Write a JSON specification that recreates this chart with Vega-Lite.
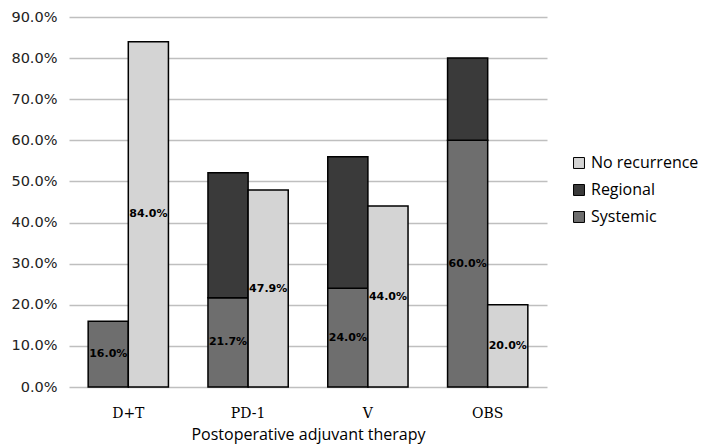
{
  "$schema": "https://vega.github.io/schema/vega-lite/v6.json",
  "width": 478,
  "height": 370,
  "padding": {"left": 10, "top": 9, "right": 5, "bottom": 5},
  "background": "white",
  "data": {
    "values": [
      {"therapy": "D+T", "bar": "Recurrence", "type": "Systemic", "value": 0.16},
      {"therapy": "D+T", "bar": "No recurrence", "type": "No recurrence", "value": 0.84},
      {"therapy": "PD-1", "bar": "Recurrence", "type": "Systemic", "value": 0.217},
      {"therapy": "PD-1", "bar": "Recurrence", "type": "Regional", "value": 0.304},
      {"therapy": "PD-1", "bar": "No recurrence", "type": "No recurrence", "value": 0.479},
      {"therapy": "V", "bar": "Recurrence", "type": "Systemic", "value": 0.24},
      {"therapy": "V", "bar": "Recurrence", "type": "Regional", "value": 0.32},
      {"therapy": "V", "bar": "No recurrence", "type": "No recurrence", "value": 0.44},
      {"therapy": "OBS", "bar": "Recurrence", "type": "Systemic", "value": 0.60},
      {"therapy": "OBS", "bar": "Recurrence", "type": "Regional", "value": 0.20},
      {"therapy": "OBS", "bar": "No recurrence", "type": "No recurrence", "value": 0.20}
    ]
  },
  "transform": [
    {"calculate": "indexof(['Systemic', 'Regional', 'No recurrence'], datum.type)", "as": "rank"}
  ],
  "encoding": {
    "x": {
      "field": "therapy", "type": "nominal", "sort": ["D+T", "PD-1", "V", "OBS"],
      "scale": {"paddingInner": 0.33, "paddingOuter": 0.16},
      "axis": {
        "title": "Postoperative adjuvant therapy", "titleFont": "Open Sans", "titleFontSize": 16,
        "titleFontWeight": "normal", "titleColor": "black", "titlePadding": 6,
        "labelAngle": 0, "labelFont": "DejaVu Serif", "labelFontSize": 14, "labelColor": "black",
        "labelPadding": 19, "ticks": false, "domain": false
      }
    },
    "xOffset": {"field": "bar", "type": "nominal", "sort": ["Recurrence", "No recurrence"], "scale": {"paddingInner": 0, "paddingOuter": 0}}
  },
  "layer": [
    {
      "mark": {"type": "bar", "stroke": "black", "strokeWidth": 1.5},
      "encoding": {
        "y": {
          "field": "value", "type": "quantitative", "stack": "zero",
          "scale": {"domain": [0, 0.9]},
          "axis": {
            "title": null, "format": ".1%", "values": [0, 0.1, 0.2, 0.3, 0.4, 0.5, 0.6, 0.7, 0.8, 0.9],
            "labelFont": "DejaVu Sans", "labelFontSize": 14.5, "labelColor": "#222222", "labelPadding": 12,
            "ticks": false, "domain": false, "gridColor": "#bfbfbf", "gridWidth": 1.5
          }
        },
        "color": {
          "field": "type", "type": "nominal",
          "scale": {"domain": ["No recurrence", "Regional", "Systemic"], "range": ["#d4d4d4", "#3a3a3a", "#6e6e6e"]},
          "legend": {
            "title": null, "orient": "none", "legendX": 502, "legendY": 138,
            "labelFont": "Open Sans", "labelFontSize": 16, "labelColor": "black",
            "symbolType": "square", "symbolSize": 120, "symbolStrokeColor": "black", "symbolStrokeWidth": 1,
            "rowPadding": 11
          }
        },
        "order": {"field": "rank", "type": "quantitative"}
      }
    },
    {
      "transform": [
        {"filter": "datum.type != 'Regional'"},
        {"calculate": "datum.value / 2", "as": "mid"}
      ],
      "mark": {"type": "text", "font": "DejaVu Sans", "fontSize": 11, "fontWeight": "bold", "color": "black"},
      "encoding": {
        "y": {"field": "mid", "type": "quantitative"},
        "text": {"field": "value", "type": "quantitative", "format": ".1%"}
      }
    }
  ],
  "config": {"view": {"stroke": null}}
}
